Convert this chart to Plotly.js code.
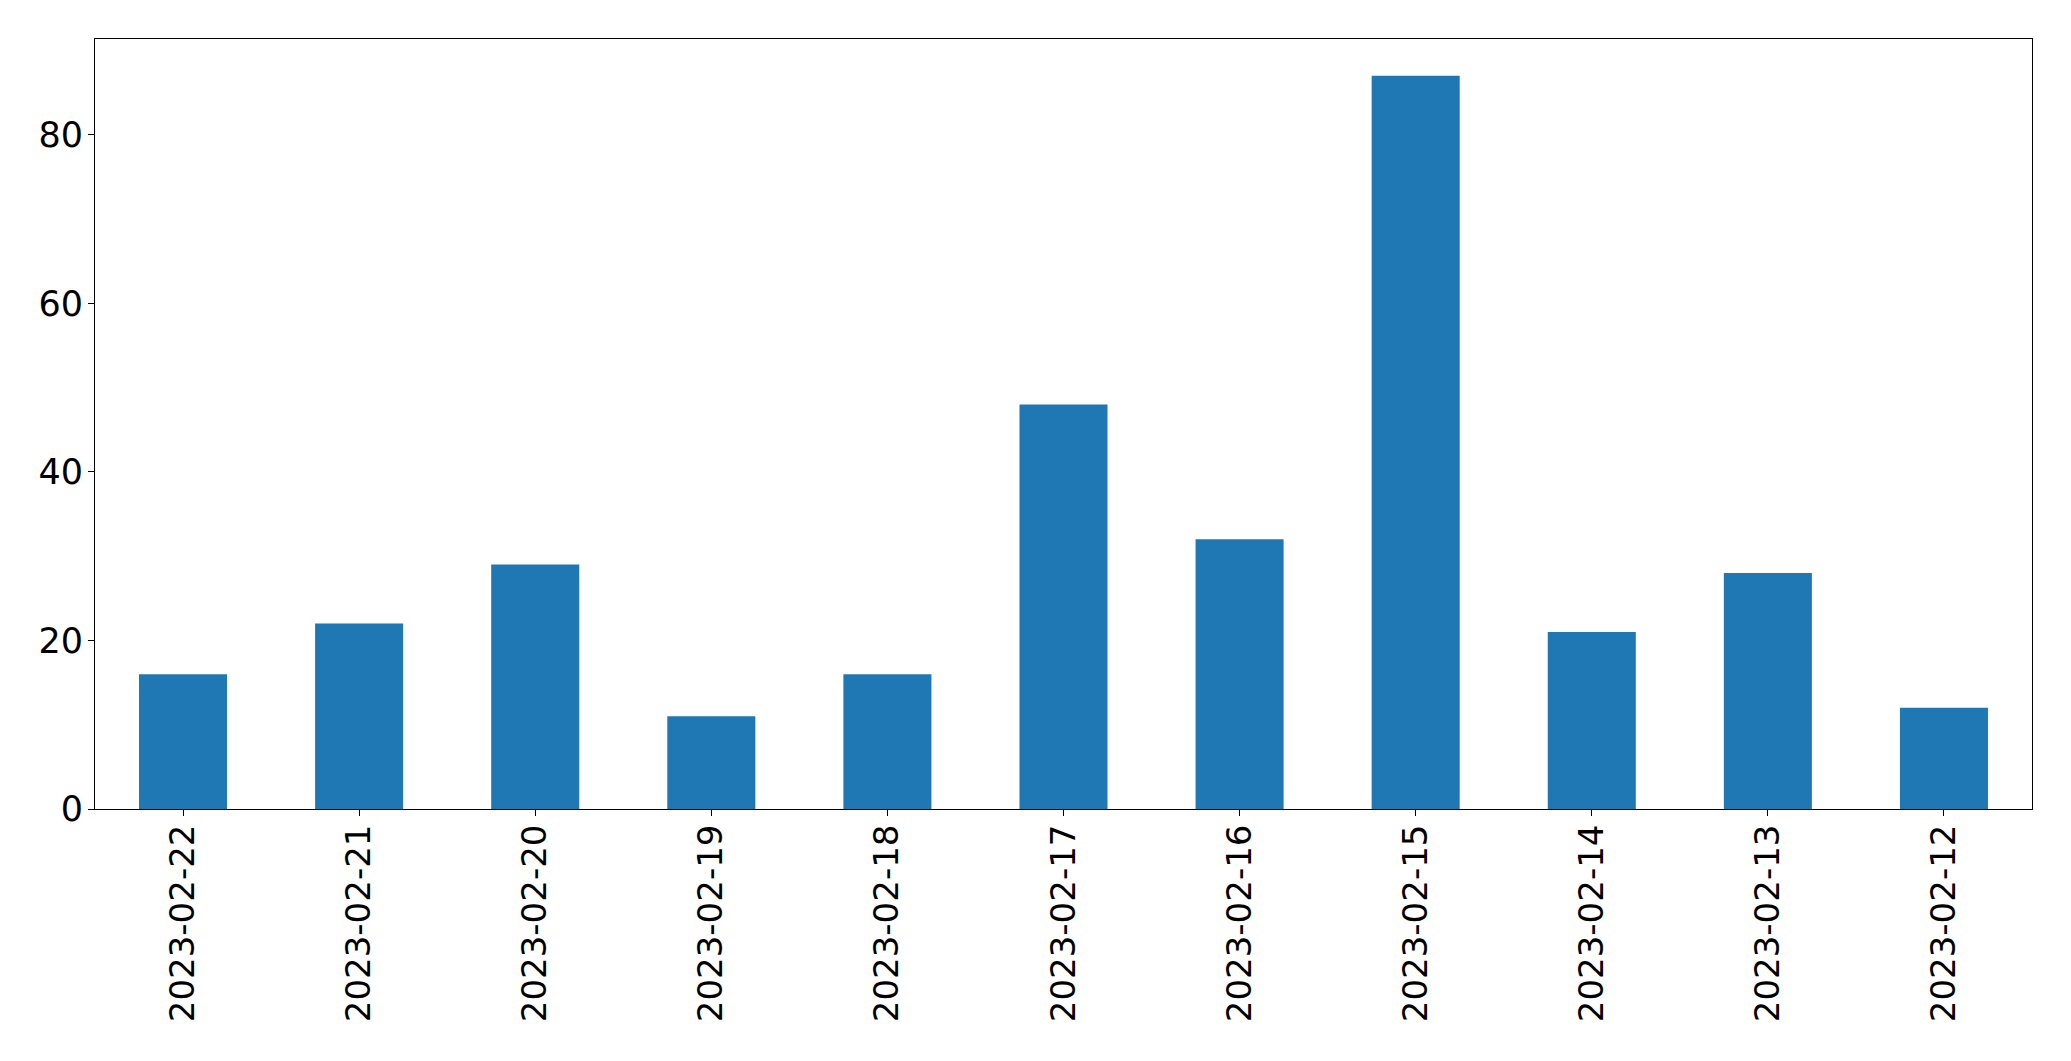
<!DOCTYPE html>
<html>
<head>
<meta charset="utf-8">
<script src="https://cdn.plot.ly/plotly-3.0.1.min.js"></script>
<style>html,body{margin:0;padding:0;background:#fff;}#chart{width:2071px;height:1061px;}</style>
</head>
<body>
<div id="chart"></div>
<script>
const dates = ["2023-02-22","2023-02-21","2023-02-20","2023-02-19","2023-02-18","2023-02-17","2023-02-16","2023-02-15","2023-02-14","2023-02-13","2023-02-12"];
const counts = [16, 22, 29, 11, 16, 48, 32, 87, 21, 28, 12];
const yTicks = [0, 20, 40, 60, 80];

const trace = {
  type: 'bar',
  x: dates,
  y: counts,
  width: 0.5,
  marker: {color: '#1f77b4', line: {width: 0}},
  hoverinfo: 'x+y'
};

const layout = {
  width: 2071,
  height: 1061,
  margin: {l: 94.7, r: 39.3, t: 39.3, b: 252, pad: 0},
  paper_bgcolor: '#ffffff',
  plot_bgcolor: '#ffffff',
  showlegend: false,
  font: {family: 'DejaVu Sans', size: 34, color: '#000000'},
  xaxis: {
    type: 'category',
    range: [-0.5, 10.5],
    tickangle: -90,
    ticks: 'outside',
    ticklen: 6,
    tickwidth: 1,
    tickcolor: '#000',
    ticklabelstandoff: -5,
    showline: true,
    linecolor: '#000',
    linewidth: 1,
    mirror: true,
    showgrid: false,
    zeroline: false,
    tickfont: {family: 'DejaVu Sans', size: 34, color: '#000'}
  },
  yaxis: {
    range: [0, 91.35],
    tickvals: yTicks,
    ticktext: yTicks.map(String),
    ticks: 'outside',
    ticklen: 6,
    tickwidth: 1,
    tickcolor: '#000',
    ticklabelstandoff: -2,
    showline: true,
    linecolor: '#000',
    linewidth: 1,
    mirror: true,
    showgrid: false,
    zeroline: false,
    tickfont: {family: 'DejaVu Sans', size: 35, color: '#000'}
  }
};

Plotly.newPlot('chart', [trace], layout, {displayModeBar: false, staticPlot: true});
</script>
</body>
</html>
